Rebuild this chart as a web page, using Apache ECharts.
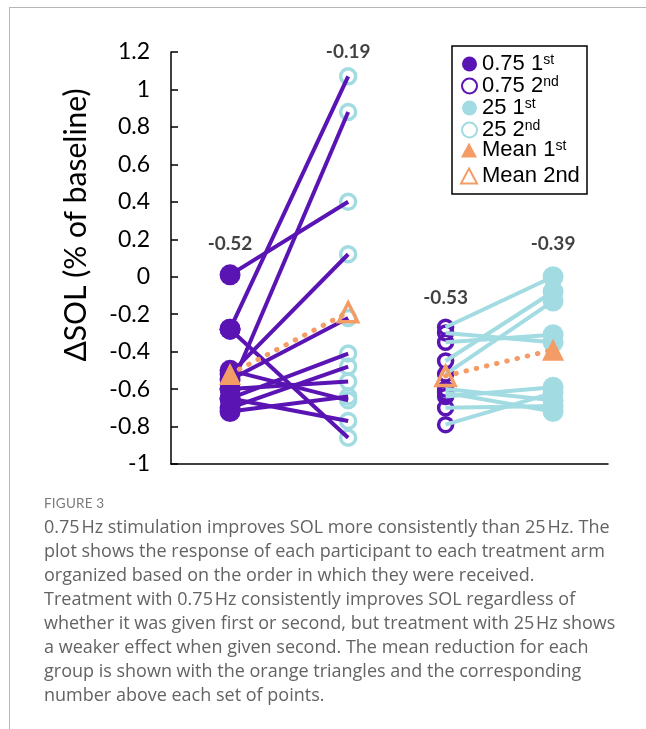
<!DOCTYPE html>
<html>
<head>
<meta charset="utf-8">
<script src="https://cdn.jsdelivr.net/npm/echarts@6.0.0/dist/echarts.min.js"></script>
<style>
  html, body { margin: 0; padding: 0; background: #fff; }
  #wrap { position: relative; width: 646px; height: 729px; overflow: hidden; }
  #frame { position: absolute; left: 9px; top: 7px; right: -2px; bottom: -2px;
           border-top: 1.5px solid #b5b5b5; border-left: 1.5px solid #b5b5b5; }
  #chart { position: absolute; left: 0; top: 0; width: 646px; height: 729px; }
  #cap { position: absolute; left: 44px; top: 492px; font-family: "Open Sans", Lato, sans-serif; color: #636363; }
  #cap .fig { font-family: Lato, sans-serif; font-size: 13.5px; color: #7a7a7a; height: 22px; line-height: 22px; letter-spacing: 0.2px; }
  #cap .ln { font-size: 18px; line-height: 24px; white-space: nowrap; }
</style>
</head>
<body>
<div id="wrap">
  <div id="frame"></div>
  <div id="chart"></div>
  <div id="cap">
    <div class="fig">FIGURE 3</div>
    <div class="ln">0.75&#8202;Hz stimulation improves SOL more consistently than 25&#8202;Hz. The</div>
    <div class="ln">plot shows the response of each participant to each treatment arm</div>
    <div class="ln">organized based on the order in which they were received.</div>
    <div class="ln">Treatment with 0.75&#8202;Hz consistently improves SOL regardless of</div>
    <div class="ln">whether it was given first or second, but treatment with 25&#8202;Hz shows</div>
    <div class="ln">a weaker effect when given second. The mean reduction for each</div>
    <div class="ln">group is shown with the orange triangles and the corresponding</div>
    <div class="ln">number above each set of points.</div>
  </div>
</div>
<script>
// ---- data ----
const columnX = [1, 3, 4.65, 6.47];          // the four point columns
// group A: 0.75 Hz given first, then 25 Hz second
const a075First = [0.01, -0.28, -0.28, -0.60, -0.52, -0.55, -0.65, -0.70, -0.60, -0.72, -0.50, -0.65];
const a25Second = [0.40, 1.07, -0.86, 0.88, 0.12, -0.22, -0.41, -0.48, -0.56, -0.64, -0.66, -0.77];
// group B: 25 Hz given first, then 0.75 Hz second
const b075Second = [-0.27, -0.30, -0.35, -0.45, -0.52, -0.60, -0.62, -0.64, -0.70, -0.79];
const b25First  = [0.00, -0.35, -0.31, -0.08, -0.13, -0.66, -0.72, -0.59, -0.69, -0.62];
// means [left column, right column] of each group
const meanA = [-0.52, -0.19];
const meanB = [-0.53, -0.39];
const yTicks = { min: -1, max: 1.2, step: 0.2 };

// ---- styles ----
const PURPLE = '#5a14b4';
const CYAN = '#a2dce2';
const ORANGE = '#f39c65';
const FONT = 'Lato, "Open Sans", sans-serif';
const LFONT = '"Liberation Sans", Arial, sans-serif';

const series = [];
function pts(x, arr) { return arr.map(v => [x, v]); }

// markers
series.push({ name: '0.75 1st', type: 'scatter', data: pts(columnX[0], a075First), symbol: 'circle', symbolSize: 21,
  itemStyle: { color: PURPLE, opacity: 1 }, z: 2 });
series.push({ name: '25 2nd', type: 'scatter', data: pts(columnX[1], a25Second), symbol: 'circle', symbolSize: 15,
  itemStyle: { color: 'rgba(255,255,255,0)', borderColor: CYAN, borderWidth: 3.5, opacity: 1 }, z: 2 });
series.push({ name: '0.75 2nd', type: 'scatter', data: pts(columnX[2], b075Second), symbol: 'circle', symbolSize: 14,
  itemStyle: { color: 'rgba(255,255,255,0)', borderColor: PURPLE, borderWidth: 3.5, opacity: 1 }, z: 2 });
series.push({ name: '25 1st', type: 'scatter', data: pts(columnX[3], b25First), symbol: 'circle', symbolSize: 21,
  itemStyle: { color: CYAN, opacity: 1 }, z: 2 });

// participant lines
a075First.forEach((v, i) => {
  series.push({ type: 'line', data: [[columnX[0], v], [columnX[1], a25Second[i]]], symbol: 'none', silent: true,
    lineStyle: { color: PURPLE, width: 4 }, z: 3 });
});
b075Second.forEach((v, i) => {
  series.push({ type: 'line', data: [[columnX[2], v], [columnX[3], b25First[i]]], symbol: 'none', silent: true,
    lineStyle: { color: CYAN, width: 4 }, z: 3 });
});

// mean dotted lines
series.push({ type: 'line', data: [[columnX[0], meanA[0]], [columnX[1], meanA[1]]], symbol: 'none', silent: true,
  lineStyle: { color: ORANGE, width: 5, type: [0.5, 10], cap: 'round' }, z: 4 });
series.push({ type: 'line', data: [[columnX[2], meanB[0]], [columnX[3], meanB[1]]], symbol: 'none', silent: true,
  lineStyle: { color: ORANGE, width: 5, type: [0.5, 10], cap: 'round' }, z: 4 });

// mean triangles
series.push({ name: 'Mean 1st', type: 'scatter', symbol: 'triangle', symbolSize: 22,
  data: [[columnX[0], meanA[0]], [columnX[3], meanB[1]]], itemStyle: { color: ORANGE, opacity: 1 }, z: 5 });
series.push({ name: 'Mean 2nd', type: 'scatter', symbol: 'triangle', symbolSize: 19,
  data: [[columnX[1], meanA[1]], [columnX[2], meanB[0]]],
  itemStyle: { color: 'rgba(255,255,255,0)', borderColor: ORANGE, borderWidth: 3.5, opacity: 1 }, z: 5 });

// mean value labels above each column
const columns = [a075First, a25Second, b075Second, b25First];
const colMeans = [meanA[0], meanA[1], meanB[0], meanB[1]];
const labelDist = [21, 15, 20, 23];
series.push({ type: 'scatter', silent: true, symbolSize: 0, z: 6,
  data: columns.map((arr, i) => ({ value: [columnX[i], Math.max(...arr)],
    label: { show: true, position: 'top', distance: labelDist[i], formatter: colMeans[i].toFixed(2) } })),
  label: { color: '#111', fontSize: 19, fontWeight: 'bold', fontFamily: FONT }
});

const legendText = {
  rich: {
    b: { fontSize: 22, fontFamily: LFONT, color: '#000', lineHeight: 21 },
    s: { fontSize: 14, fontFamily: LFONT, color: '#000', verticalAlign: 'top', lineHeight: 14 }
  }
};
function legendFmt(name) {
  if (name === 'Mean 2nd') return '{b|Mean 2nd}';
  const m = name.match(/^(.*\d)(st|nd)$/);
  return m ? '{b|' + m[1] + '}{s|' + m[2] + '}' : '{b|' + name + '}';
}

const chart = echarts.init(document.getElementById('chart'), null, { renderer: 'canvas' });
chart.setOption({
  animation: false,
  grid: { left: 171, top: 52, right: 38, bottom: 265, containLabel: false },
  xAxis: { type: 'value', min: 0, max: 7.4, axisLine: { show: true, onZero: false, lineStyle: { color: '#000', width: 1.5 } },
    axisTick: { show: false }, axisLabel: { show: false }, splitLine: { show: false } },
  yAxis: { type: 'value', min: yTicks.min, max: yTicks.max, interval: yTicks.step,
    name: 'ΔSOL (% of baseline)', nameLocation: 'middle', nameGap: 80, nameRotate: 90,
    nameTextStyle: { fontSize: 30, fontFamily: FONT, color: '#000', padding: [0, 0, 0, 66] },
    axisLine: { show: true, lineStyle: { color: '#000', width: 1.5 } },
    axisTick: { show: true, inside: true, length: 7, lineStyle: { color: '#000', width: 1.5 } },
    axisLabel: { fontSize: 23, fontFamily: FONT, color: '#000', margin: 21,
      formatter: v => String(Math.round(v * 10) / 10) },
    splitLine: { show: false } },
  legend: [
    { data: ['0.75 1st', '0.75 2nd', '25 1st', '25 2nd'], orient: 'vertical', left: 461, top: 53,
      itemGap: 0, itemWidth: 15, itemHeight: 15, icon: 'circle', formatter: legendFmt, textStyle: legendText,
      selectedMode: false, padding: 0 },
    { data: ['Mean 1st', 'Mean 2nd'], orient: 'vertical', left: 460, top: 139,
      itemGap: 4, itemWidth: 16, itemHeight: 15, icon: 'triangle', formatter: legendFmt, textStyle: legendText,
      selectedMode: false, padding: 0 }
  ],
  graphic: [
    { type: 'rect', shape: { x: 452, y: 46, width: 135, height: 148 }, style: { fill: 'none', stroke: '#000', lineWidth: 1.5 }, z: 10 }
  ],
  series: series
});
</script>
</body>
</html>
